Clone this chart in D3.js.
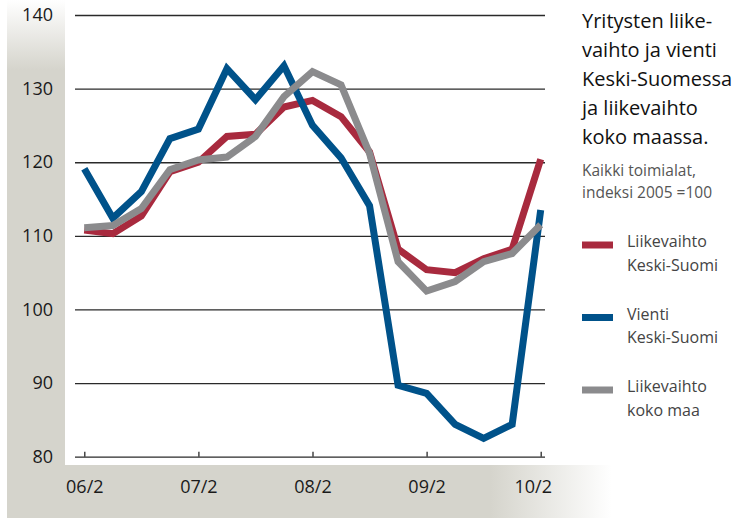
<!DOCTYPE html>
<html>
<head>
<meta charset="utf-8">
<script src="https://cdn.jsdelivr.net/npm/d3@7"></script>
<style>
  body { margin: 0; background: #fff; }
  svg text { font-family: "Open Sans", "Noto Sans", sans-serif; }
</style>
</head>
<body>
<svg id="chart" width="751" height="518"></svg>
<script>
// neljännesvuosittain 06/2 ... 10/2
const tickLabels = ["06/2", "07/2", "08/2", "09/2", "10/2"]
const tickIdx = [0, 4, 8, 12, 16]
const yTicks = [80, 90, 100, 110, 120, 130, 140]

const liikevaihtoKS = [110.8, 110.3, 112.7, 118.7, 120.0, 123.5, 123.8, 127.5, 128.4, 126.2, 121.4, 108.2, 105.4, 105.0, 106.9, 108.2, 120.4]
const vientiKS      = [119.1, 112.4, 116.0, 123.2, 124.5, 132.7, 128.5, 133.1, 125.0, 120.6, 114.1, 89.7, 88.6, 84.4, 82.5, 84.4, 113.5]
const liikevaihtoKM = [111.1, 111.4, 113.7, 119.0, 120.3, 120.7, 123.5, 128.9, 132.3, 130.5, 121.2, 106.5, 102.5, 103.8, 106.5, 107.6, 111.5]

const series = [
  { name: ["Liikevaihto", "Keski-Suomi"], values: liikevaihtoKS, color: "#a82a3e" },
  { name: ["Vienti", "Keski-Suomi"], values: vientiKS, color: "#00528a" },
  { name: ["Liikevaihto", "koko maa"], values: liikevaihtoKM, color: "#8b8b8d" }
]

const titleLines = ["Yritysten liike-", "vaihto ja vienti", "Keski-Suomessa", "ja liikevaihto", "koko maassa."]
const subLines = ["Kaikki toimialat,", "indeksi 2005 =100"]

const svg = d3.select("#chart")
const bandColor = "#d5d4cc"

let defs = svg.append("defs")
let gv = defs.append("linearGradient").attr("id", "gv")
  .attr("gradientUnits", "userSpaceOnUse")
  .attr("x1", 0).attr("y1", 0).attr("x2", 0).attr("y2", 70)
gv.append("stop").attr("offset", 0).attr("stop-color", "#fff")
gv.append("stop").attr("offset", 1).attr("stop-color", bandColor)
let gh = defs.append("linearGradient").attr("id", "gh")
  .attr("gradientUnits", "userSpaceOnUse")
  .attr("x1", 490).attr("y1", 0).attr("x2", 612).attr("y2", 0)
gh.append("stop").attr("offset", 0).attr("stop-color", bandColor)
gh.append("stop").attr("offset", 1).attr("stop-color", "#fff")

// taustan harmaat kaistat
svg.append("rect").attr("x", 7).attr("y", 0).attr("width", 58).attr("height", 466).attr("fill", "url(#gv)")
svg.append("rect").attr("x", 7).attr("y", 465).attr("width", 744).attr("height", 53).attr("fill", "url(#gh)")

const x = d3.scaleLinear().domain([0, 16]).range([84.3, 540.7])
const y = d3.scaleLinear().domain([80, 140]).range([456.7, 15])

// vaakaviivat + y-otsikot
let yAxis = svg.append("g").attr("transform", "translate(75,0)")
  .call(d3.axisLeft(y).tickValues(yTicks).tickSize(-470).tickPadding(22))
yAxis.select(".domain").remove()
yAxis.selectAll("line").attr("stroke", "#2a2a2a").attr("stroke-width", 1.3)
yAxis.selectAll("text").attr("font-size", 18).attr("fill", "#1a1a1a")

// x-akselin tikit ja otsikot
let xAxis = svg.append("g").attr("transform", "translate(0,456.7)")
  .call(d3.axisBottom(x).tickValues(tickIdx).tickSizeInner(-5).tickSizeOuter(0).tickPadding(24)
    .tickFormat((d, i) => tickLabels[i]))
xAxis.select(".domain").remove()
xAxis.selectAll("line").attr("stroke", "#2a2a2a").attr("stroke-width", 1.3)
xAxis.selectAll("text").attr("font-size", 18).attr("fill", "#1a1a1a")
  .attr("dx", (d, i) => i == tickIdx.length - 1 ? -8 : 0)

const line = d3.line().x((d, i) => x(i)).y(d => y(d))

svg.append("g").selectAll("path").data(series).join("path")
  .attr("d", s => line(s.values))
  .attr("fill", "none")
  .attr("stroke", s => s.color)
  .attr("stroke-width", 7)
  .attr("stroke-linejoin", "miter")

// otsikko
svg.append("g").selectAll("text").data(titleLines).join("text")
  .attr("x", 582).attr("y", (d, i) => 28 + i * 29)
  .attr("font-size", 20).attr("fill", "#111")
  .text(d => d)
svg.append("g").selectAll("text").data(subLines).join("text")
  .attr("x", 582).attr("y", (d, i) => 176 + i * 22)
  .attr("font-size", 15.5).attr("fill", "#555")
  .text(d => d)

// selite
let leg = svg.append("g").selectAll("g").data(series).join("g")
  .attr("transform", (d, i) => `translate(582,${245 + i * 72.5})`)
leg.append("line").attr("x1", 0).attr("x2", 31).attr("y1", 0).attr("y2", 0)
  .attr("stroke", d => d.color).attr("stroke-width", 7)
leg.append("text").attr("x", 45).attr("y", 2).attr("font-size", 16).attr("fill", "#444")
  .text(d => d.name[0])
leg.append("text").attr("x", 45).attr("y", 25.5).attr("font-size", 16).attr("fill", "#444")
  .text(d => d.name[1])
</script>
</body>
</html>
